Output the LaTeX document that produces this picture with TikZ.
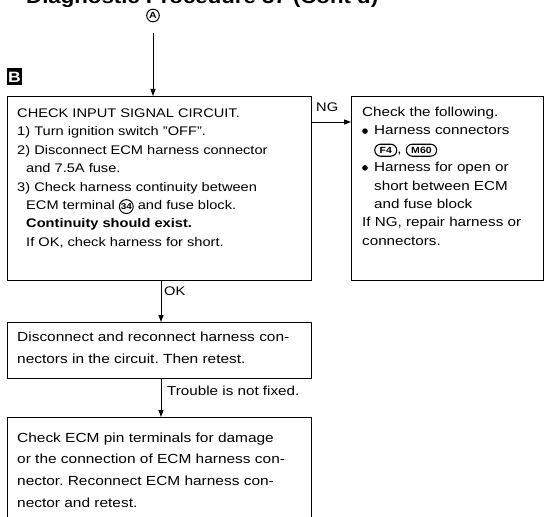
\documentclass[tikz,border=0pt]{standalone}
\usepackage{fontspec}
\setmainfont[FakeStretch=1.17]{Liberation Sans}
\usetikzlibrary{arrows.meta,shapes.misc}
\frenchspacing
\newcommand\fs[2]{\fontsize{#1}{#2}\selectfont}
\newcommand\conn[1]{\tikz[baseline=(k.base)]\node[rounded rectangle,draw,line width=1.1pt,inner xsep=4pt,inner ysep=1.8pt,minimum height=12pt,anchor=center,font=\bfseries\fs{9}{9}](k){#1};}
\newcommand\cnum[1]{\tikz[baseline=(k.base)]\node[circle,draw,line width=1pt,inner sep=0.5pt,anchor=center,font=\bfseries\fs{8.5}{8.5}](k){#1};}
\newcommand\bul{\makebox[12pt][l]{\tikz[baseline=0pt]\fill (2.6pt,3.8pt) circle (2.8pt);}}
\begin{document}
\begin{tikzpicture}[x=1pt,y=-1pt,
  box/.style={draw,line width=1.2pt,anchor=north west,inner sep=0pt},
  txt/.style={anchor=base west,inner sep=0pt},
  arr/.style={line width=1pt,-{Triangle[length=7pt,width=5pt]}},
  lab/.style={anchor=base west,inner sep=0pt,font=\fs{13}{13}}]
\useasboundingbox (0,0) rectangle (545,516);
\clip (0,0) rectangle (545,516);
\fill[white] (0,0) rectangle (545,516);
% title (cut off at top)
\node[anchor=base west,inner sep=0pt,font=\bfseries\fs{19}{19}] (title) at (26,4) {Diagnostic Procedure 37 (Cont'd)};
% circled A
\node[circle,draw,line width=1pt,inner sep=1pt,font=\bfseries\fs{9}{9}] (ca) at (153,15.5) {A};
% B label
\node[fill=black,text=white,font=\bfseries\fs{15}{15},minimum width=15pt,minimum height=17pt,inner sep=0pt] (lb) at (14.5,77) {B};
% boxes
\node[box,minimum width=304pt,minimum height=184pt] (b1) at (7,96) {};
\node[box,minimum width=192pt,minimum height=184pt] (b2) at (351,96) {};
\node[box,minimum width=304pt,minimum height=56pt] (b3) at (7,322) {};
\node[box,minimum width=304pt,minimum height=130pt] (b4) at (7,417) {};
% texts
\node[txt] (t1) at (17,117.5) {\parbox[t]{290pt}{\fs{12.5}{18.4}CHECK INPUT SIGNAL CIRCUIT.\\
1) Turn ignition switch "OFF".\\
2) Disconnect ECM harness connector\\
\hspace*{9pt}and 7.5A fuse.\\
3) Check harness continuity between\\
\hspace*{9pt}ECM terminal \cnum{34} and fuse block.\\
\hspace*{9pt}\textbf{Continuity should exist.}\\
\hspace*{9pt}If OK, check harness for short.}};
\node[txt] (t2) at (362,116.5) {\parbox[t]{178pt}{\fs{13}{18.4}Check the following.\\
\bul Harness connectors\\
\hspace*{12pt}\conn{F4}, \conn{M60}\\
\bul Harness for open or\\
\hspace*{12pt}short between ECM\\
\hspace*{12pt}and fuse block\\
If NG, repair harness or\\
connectors.}};
\node[txt] (t3) at (17,341) {\parbox[t]{290pt}{\fs{13.2}{22.6}Disconnect and reconnect harness con-\\
nectors in the circuit. Then retest.}};
\node[txt] (t4) at (17,442) {\parbox[t]{290pt}{\fs{13.2}{21.7}Check ECM pin terminals for damage\\
or the connection of ECM harness con-\\
nector. Reconnect ECM harness con-\\
nector and retest.}};
% connectors
\coordinate (ax) at (161,0);
\coordinate (ng) at (0,122);
\draw[arr,shorten <=11pt] (ca.south) -- (ca.south |- b1.north);
\draw[arr] (b1.east |- ng) -- (b2.west |- ng);
\draw[arr] (ax |- b1.south) -- (ax |- b3.north);
\draw[arr] (ax |- b3.south) -- (ax |- b4.north);
% labels
\node[lab,font=\fs{12.5}{12.5}] (lng) at (316,111) {NG};
\node[lab,font=\fs{12.5}{12.5}] (lok) at (164,295.5) {OK};
\node[lab] (ltr) at (167,395) {Trouble is not fixed.};
\end{tikzpicture}
\end{document}
